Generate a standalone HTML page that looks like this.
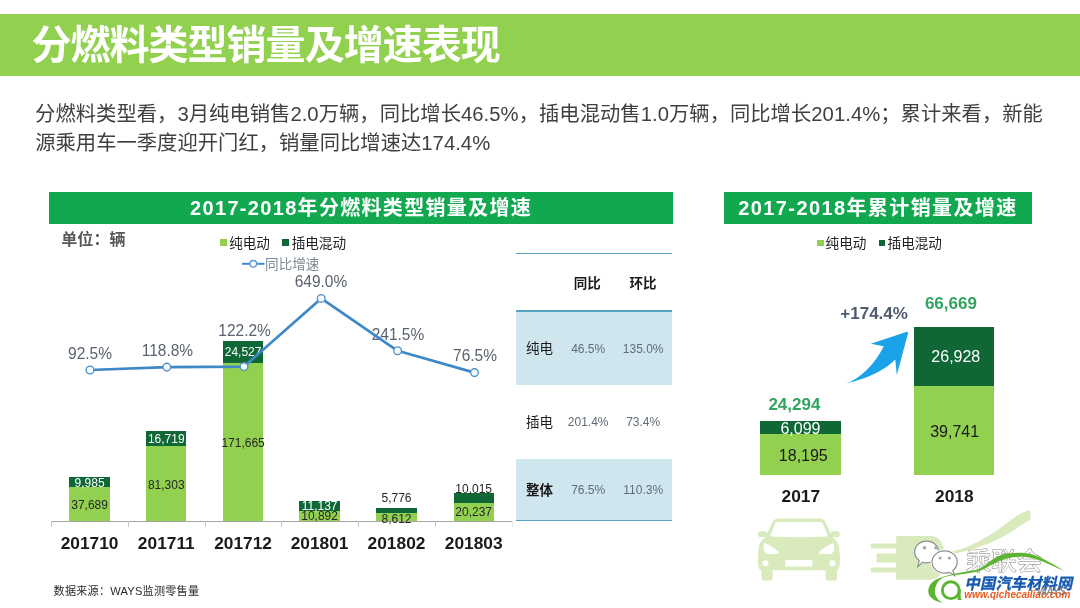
<!DOCTYPE html>
<html lang="zh"><head><meta charset="utf-8"><title>分燃料类型销量及增速表现</title>
<style>
html,body{margin:0;padding:0;background:#fff}
body{width:1080px;height:608px;position:relative;overflow:hidden;font-family:"Liberation Sans",sans-serif}
.r{position:absolute}
.n{position:absolute;width:120px;text-align:center;line-height:1;white-space:nowrap}
.sr{position:absolute;left:0;top:0;width:1px;height:1px;overflow:hidden;clip:rect(0 0 0 0);white-space:nowrap;font-size:1px;color:transparent}
svg.o{position:absolute;left:0;top:0}
svg.o text{font-family:"Liberation Sans","Noto Sans CJK SC",sans-serif}
</style></head><body>
<div style="position:absolute;left:0;top:0;width:1080px;height:608px;will-change:transform">
<div class="r" style="left:0;top:14px;width:1080px;height:61.5px;background:#92D050"></div>
<div class="r" style="left:49px;top:191.9px;width:623.5px;height:32.6px;background:#12A850"></div>
<div class="r" style="left:724px;top:191.9px;width:308px;height:32.6px;background:#12A850"></div>
<div class="r" style="left:220.3px;top:239.2px;width:6.6px;height:6.4px;background:#92D050"></div>
<div class="r" style="left:282.2px;top:239.2px;width:6.8px;height:6.4px;background:#0E6735"></div>
<div class="r" style="left:817px;top:239.5px;width:6.5px;height:6.5px;background:#92D050"></div>
<div class="r" style="left:878.5px;top:239.5px;width:6.5px;height:6.5px;background:#0E6735"></div>
<div class="r" style="left:69.45px;top:477.44px;width:40.3px;height:43.86px;background:#92D050"></div>
<div class="r" style="left:69.45px;top:477.44px;width:40.3px;height:9.19px;background:#0E6735"></div>
<div class="r" style="left:146.15px;top:431.12px;width:40.3px;height:90.18px;background:#92D050"></div>
<div class="r" style="left:146.15px;top:431.12px;width:40.3px;height:15.38px;background:#0E6735"></div>
<div class="r" style="left:222.95px;top:340.8px;width:40.3px;height:180.5px;background:#92D050"></div>
<div class="r" style="left:222.95px;top:340.8px;width:40.3px;height:22.56px;background:#0E6735"></div>
<div class="r" style="left:299.45px;top:501.03px;width:40.3px;height:20.27px;background:#92D050"></div>
<div class="r" style="left:299.45px;top:501.03px;width:40.3px;height:10.25px;background:#0E6735"></div>
<div class="r" style="left:376.35px;top:508.06px;width:40.3px;height:13.24px;background:#92D050"></div>
<div class="r" style="left:376.35px;top:508.06px;width:40.3px;height:5.31px;background:#0E6735"></div>
<div class="r" style="left:453.55px;top:493.47px;width:40.3px;height:27.83px;background:#92D050"></div>
<div class="r" style="left:453.55px;top:493.47px;width:40.3px;height:9.21px;background:#0E6735"></div>
<div class="r" style="left:51px;top:520.6px;width:461px;height:1px;background:#a6a6a6"></div>
<div class="r" style="left:51px;top:521px;width:1px;height:6px;background:#c4c4c4"></div>
<div class="r" style="left:127.75px;top:521px;width:1px;height:6px;background:#c4c4c4"></div>
<div class="r" style="left:204.5px;top:521px;width:1px;height:6px;background:#c4c4c4"></div>
<div class="r" style="left:281.25px;top:521px;width:1px;height:6px;background:#c4c4c4"></div>
<div class="r" style="left:358px;top:521px;width:1px;height:6px;background:#c4c4c4"></div>
<div class="r" style="left:434.75px;top:521px;width:1px;height:6px;background:#c4c4c4"></div>
<div class="r" style="left:511.5px;top:521px;width:1px;height:6px;background:#e6e6e6"></div>
<div class="n" style="left:29.6px;top:498.64px;font-size:12px;color:#262626">37,689</div>
<div class="n" style="left:29.6px;top:476.84px;font-size:12px;color:#fff">9,985</div>
<div class="n" style="left:106.3px;top:478.64px;font-size:12px;color:#262626">81,303</div>
<div class="n" style="left:106.3px;top:433.04px;font-size:12px;color:#fff">16,719</div>
<div class="n" style="left:183.1px;top:437.34px;font-size:12px;color:#262626">171,665</div>
<div class="n" style="left:183.1px;top:346.14px;font-size:12px;color:#fff">24,527</div>
<div class="n" style="left:259.6px;top:500.34px;font-size:12px;color:#fff">11,137</div>
<div class="n" style="left:259.6px;top:510.14px;font-size:12px;color:#262626">10,892</div>
<div class="n" style="left:336.5px;top:491.94px;font-size:12px;color:#262626">5,776</div>
<div class="n" style="left:336.5px;top:512.94px;font-size:12px;color:#262626">8,612</div>
<div class="n" style="left:413.7px;top:483.04px;font-size:12px;color:#262626">10,015</div>
<div class="n" style="left:413.7px;top:505.94px;font-size:12px;color:#262626">20,237</div>
<div class="n" style="left:29.6px;top:534.83px;font-size:17.33px;color:#1a1a1a;font-weight:bold">201710</div>
<div class="n" style="left:106.3px;top:534.83px;font-size:17.33px;color:#1a1a1a;font-weight:bold">201711</div>
<div class="n" style="left:183.1px;top:534.83px;font-size:17.33px;color:#1a1a1a;font-weight:bold">201712</div>
<div class="n" style="left:259.6px;top:534.83px;font-size:17.33px;color:#1a1a1a;font-weight:bold">201801</div>
<div class="n" style="left:336.5px;top:534.83px;font-size:17.33px;color:#1a1a1a;font-weight:bold">201802</div>
<div class="n" style="left:413.7px;top:534.83px;font-size:17.33px;color:#1a1a1a;font-weight:bold">201803</div>
<div class="n" style="left:30px;top:346.18px;font-size:15.5px;color:#5A6270;transform:scaleY(1.08);transform-origin:50% 84.65%">92.5%</div>
<div class="n" style="left:107.4px;top:342.98px;font-size:15.5px;color:#5A6270;transform:scaleY(1.08);transform-origin:50% 84.65%">118.8%</div>
<div class="n" style="left:184.6px;top:323.18px;font-size:15.5px;color:#5A6270;transform:scaleY(1.08);transform-origin:50% 84.65%">122.2%</div>
<div class="n" style="left:261px;top:274.18px;font-size:15.5px;color:#5A6270;transform:scaleY(1.08);transform-origin:50% 84.65%">649.0%</div>
<div class="n" style="left:338px;top:326.68px;font-size:15.5px;color:#5A6270;transform:scaleY(1.08);transform-origin:50% 84.65%">241.5%</div>
<div class="n" style="left:415px;top:347.68px;font-size:15.5px;color:#5A6270;transform:scaleY(1.08);transform-origin:50% 84.65%">76.5%</div>
<div class="r" style="left:516.3px;top:311px;width:156px;height:73.5px;background:#CFE6EF"></div>
<div class="r" style="left:516.3px;top:459px;width:156px;height:61.5px;background:#CFE6EF"></div>
<div class="r" style="left:516.3px;top:252.6px;width:156px;height:1px;background:#55A3BE"></div>
<div class="r" style="left:516.3px;top:309.6px;width:156px;height:2px;background:#55A3BE"></div>
<div class="r" style="left:516.3px;top:520px;width:156px;height:1.2px;background:#55A3BE"></div>
<div class="n" style="left:528.2px;top:342.54px;font-size:12px;color:#5f6b7a">46.5%</div>
<div class="n" style="left:583.2px;top:342.54px;font-size:12px;color:#5f6b7a">135.0%</div>
<div class="n" style="left:528.2px;top:416.14px;font-size:12px;color:#5f6b7a">201.4%</div>
<div class="n" style="left:583.2px;top:416.14px;font-size:12px;color:#5f6b7a">73.4%</div>
<div class="n" style="left:528.2px;top:484.14px;font-size:12px;color:#5f6b7a">76.5%</div>
<div class="n" style="left:583.2px;top:484.14px;font-size:12px;color:#5f6b7a">110.3%</div>
<div class="r" style="left:760px;top:421.2px;width:81px;height:53.8px;background:#92D050"></div>
<div class="r" style="left:760px;top:421.2px;width:81px;height:13.2px;background:#0E6735"></div>
<div class="r" style="left:914px;top:326.8px;width:79.5px;height:148.2px;background:#92D050"></div>
<div class="r" style="left:914px;top:326.8px;width:79.5px;height:59.4px;background:#0E6735"></div>
<div class="n" style="left:740.5px;top:420.98px;font-size:16px;color:#fff">6,099</div>
<div class="n" style="left:743.3px;top:447.78px;font-size:16px;color:#1a1a1a">18,195</div>
<div class="n" style="left:895.8px;top:349.18px;font-size:16px;color:#fff">26,928</div>
<div class="n" style="left:894.7px;top:424.18px;font-size:16px;color:#1a1a1a">39,741</div>
<div class="n" style="left:740.8px;top:487.53px;font-size:17.33px;color:#1a1a1a;font-weight:bold">2017</div>
<div class="n" style="left:894.3px;top:487.53px;font-size:17.33px;color:#1a1a1a;font-weight:bold">2018</div>
</div>
<svg class="o" width="1080" height="608" viewBox="0 0 1080 608">
<text x="31.5" y="58.9" font-size="40" font-weight="bold" fill="#fff" textLength="469.2" lengthAdjust="spacing">分燃料类型销量及增速表现</text>
<text x="35.1" y="121.3" font-size="20.3" fill="#404040" textLength="1007.8" lengthAdjust="spacing">分燃料类型看，3月纯电销售2.0万辆，同比增长46.5%，插电混动售1.0万辆，同比增长201.4%；累计来看，新能</text>
<text x="35.2" y="150.3" font-size="20.3" fill="#404040" textLength="455" lengthAdjust="spacing">源乘用车一季度迎开门红，销量同比增速达174.4%</text>
<text x="190.1" y="215.2" font-size="20" font-weight="bold" fill="#fff" textLength="340.6" lengthAdjust="spacing">2017-2018年分燃料类型销量及增速</text>
<text x="738.3" y="215.2" font-size="20" font-weight="bold" fill="#fff" textLength="277.9" lengthAdjust="spacing">2017-2018年累计销量及增速</text>
<text x="61.2" y="244.6" font-size="16" font-weight="bold" fill="#595959" textLength="64.4" lengthAdjust="spacing">单位：辆</text>
<text x="229.2" y="248" font-size="13.6" fill="#222">纯电动</text>
<text x="291.7" y="248" font-size="13.6" fill="#222">插电混动</text>
<text x="265.1" y="268.7" font-size="13.6" fill="#7f8893">同比增速</text>
<line x1="242" y1="263.8" x2="264.5" y2="263.8" stroke="#3E8CCF" stroke-width="2"/><circle cx="253.3" cy="263.8" r="3.3" fill="#fff" stroke="#5B9BD5" stroke-width="1.4"/>
<text x="825.6" y="248" font-size="13.6" fill="#222">纯电动</text>
<text x="887.6" y="248" font-size="13.6" fill="#222">插电混动</text>
<polyline fill="none" stroke="#3E88C8" stroke-width="2.7" stroke-linejoin="round" points="90,370 166.8,367.1 244,366.6 321.2,298.4 397.6,350.8 474.5,372.6"/>
<circle cx="90" cy="370" r="3.85" fill="#f4fbff" stroke="#4F8FC4" stroke-width="1.35"/>
<circle cx="166.8" cy="367.1" r="3.85" fill="#f4fbff" stroke="#4F8FC4" stroke-width="1.35"/>
<circle cx="244" cy="366.6" r="3.85" fill="#f4fbff" stroke="#4F8FC4" stroke-width="1.35"/>
<circle cx="321.2" cy="298.4" r="3.85" fill="#f4fbff" stroke="#4F8FC4" stroke-width="1.35"/>
<circle cx="397.6" cy="350.8" r="3.85" fill="#f4fbff" stroke="#4F8FC4" stroke-width="1.35"/>
<circle cx="474.5" cy="372.6" r="3.85" fill="#f4fbff" stroke="#4F8FC4" stroke-width="1.35"/>
<text x="573.7" y="287.6" font-size="13.5" font-weight="bold" fill="#1a1a1a">同比</text>
<text x="629.4" y="287.6" font-size="13.5" font-weight="bold" fill="#1a1a1a">环比</text>
<text x="526" y="352.7" font-size="13.5" fill="#1a1a1a">纯电</text>
<text x="526" y="427" font-size="13.5" fill="#1a1a1a">插电</text>
<text x="526.1" y="495" font-size="13.5" font-weight="bold" fill="#1a1a1a">整体</text>
<text x="768.4" y="410" font-size="17" font-weight="bold" fill="#33A460">24,294</text>
<text x="924.9" y="309.4" font-size="17" font-weight="bold" fill="#33A460">66,669</text>
<text x="840.3" y="318.7" font-size="17" font-weight="bold" fill="#4F5B6E">+174.4%</text>
<path fill="#1AA3E8" d="M846,383.6 C861,378 875,364 883.7,346.2 L870.8,343.8 L906.2,331.9 Q908.4,331.3 908,333.6 L896.8,375 L895.3,359.5 C886,369 870,378 846,383.6Z"/>
<text x="53.6" y="595.4" font-size="11.1" fill="#2a2a2a" textLength="145.4" lengthAdjust="spacing">数据来源：WAYS监测零售量</text>
<g fill="#D9EABD"><path d="M779,518.6 L819,518.6 Q823.5,518.6 825.3,522 L832.5,537 Q838,541 839.2,548 Q840.5,556 839.5,566 Q839,570 836.9,570.3 L836.9,578.5 Q836.9,580.5 834.9,580.5 L827.5,580.5 Q825.5,580.5 825.5,578.5 L825.5,570.3 L772.6,570.3 L772.6,578.5 Q772.6,580.5 770.6,580.5 L763.5,580.5 Q761.5,580.5 761.5,578.5 L761.5,570.3 Q759,570 758.3,566 Q757.3,556 758.6,548 Q759.8,541 765.5,537 L772.7,522 Q774.5,518.6 779,518.6Z"/><rect x="758" y="531.3" width="9" height="5.8" rx="2.6"/><rect x="830.7" y="531.3" width="9" height="5.8" rx="2.6"/></g><g fill="#fff"><path d="M777.8,522 H820.2 Q822.3,522 823.1,524 L827.5,535 Q828,536.4 826.4,536.5 C810,537.6 788,537.6 771.6,536.5 Q770,536.4 770.5,535 L774.9,524 Q775.7,522 777.8,522Z"/><path d="M764,543 Q771.5,545.6 778.9,552.2 Q778.6,553.9 776.5,554 L767.5,554 Q764,553.2 763.6,549.2 Q763.4,545.2 764,543Z"/><path transform="translate(1597.7 0) scale(-1 1)" d="M764,543 Q771.5,545.6 778.9,552.2 Q778.6,553.9 776.5,554 L767.5,554 Q764,553.2 763.6,549.2 Q763.4,545.2 764,543Z"/><circle cx="765.5" cy="563.3" r="3.1"/><circle cx="832.3" cy="563.3" r="3.1"/><rect x="785.2" y="560" width="27" height="6.5"/></g><g fill="#D9EABD"><rect x="870.7" y="543.6" width="27" height="5" rx="1"/><rect x="876.5" y="553.5" width="21" height="9"/><rect x="870.7" y="567.4" width="27" height="5" rx="1"/><path d="M896.2,535.9 H931 Q940,536.5 943,546 L946,553 L946,562 L942,572 Q938,579.8 931,579.8 H896.2Z"/><path d="M943,553.2 C957,551.2 968,547 977.6,542.1 C985,538 991,534.5 997.4,530.3 C1004,525.5 1010,520.5 1017,515.8 C1021,513 1026,511 1030.3,509.9 L1030.5,519.8 C1026,522 1021,525 1017,528.3 C1010,533 1004,536.5 997.4,539.5 C991,542.5 985,545 977.6,547.4 C968,550.5 957,553.5 943,556Z"/></g><g fill="#fff" stroke="#8f8f8f" stroke-width="1.2"><path d="M926.6,541.2 C933.4,541.2 938.6,546 938.6,552 C938.6,558 933.4,562.8 926.6,562.8 C925.2,562.8 923.8,562.6 922.6,562.2 L917.8,566.6 L919.2,560.4 C916.4,558.4 914.6,555.4 914.6,552 C914.6,546 919.8,541.2 926.6,541.2Z"/><path stroke="#fff" stroke-width="3" d="M944.6,550.8 C951.6,550.8 957.2,555.8 957.2,562 C957.2,565.4 955.6,568.4 952.8,570.4 L954.8,575.6 L949.4,572.4 C947.8,572.9 946.2,573.2 944.6,573.2 C937.6,573.2 932,568.2 932,562 C932,555.8 937.6,550.8 944.6,550.8Z"/><path d="M944.6,550.8 C951.6,550.8 957.2,555.8 957.2,562 C957.2,565.4 955.6,568.4 952.8,570.4 L954.8,575.6 L949.4,572.4 C947.8,572.9 946.2,573.2 944.6,573.2 C937.6,573.2 932,568.2 932,562 C932,555.8 937.6,550.8 944.6,550.8Z"/></g><g fill="#a8a8a8"><circle cx="924.5" cy="547.7" r="1.8"/><circle cx="936" cy="547.7" r="1.8"/><circle cx="940.1" cy="558" r="1.6"/><circle cx="949.3" cy="558" r="1.6"/></g><text x="965.7" y="570.3" font-size="25.5" fill="#fff" stroke="#7c7c7c" stroke-width="1" stroke-linejoin="round" paint-order="stroke">乘联会</text><path fill="#5CB531" d="M943,603 C934.5,601.5 928.4,597.5 928.3,591.6 C928.2,586.5 931,582.6 935.8,579.7 C943.5,575.2 960,572.6 975.6,569.9 C982,568.5 987.5,563 993.3,558.9 C999,555 1004.5,553.6 1010,553.2 C1014,552.8 1018,552.6 1022,552.8 C1030,553.3 1037.5,555.8 1043.3,558.9 C1050,562.5 1056,565.5 1064.8,571 C1057,567.8 1050,564.5 1043.3,561.7 C1037,559 1030,557.2 1022,556.7 C1018,556.5 1014,557 1010,557.8 C1004.5,559 999,561 993.3,563.9 C987.5,567 982,570.5 975.6,572 C960,575 947,575.5 943.7,577.3 C940,579.3 937.8,581.5 936.5,584.5 C934.3,589 934.2,594 937,598 C938.8,600.5 940.8,602 943,603Z"/><circle cx="950.8" cy="590.2" r="8.45" fill="none" stroke="#5CB531" stroke-width="2.9"/><path fill="#5CB531" d="M957.7,589 H960.7 V598 Q960.8,599.6 962.2,600.1 L957.7,600.1Z"/><g transform="translate(0 588.9) skewX(-12) translate(0 -588.9)"><text x="964.7" y="589.25" font-size="15.4" font-weight="bold" fill="#fff" stroke="#fff" stroke-width="2.6" stroke-linejoin="round" textLength="107.7" lengthAdjust="spacing">中国汽车材料网</text><text x="964.7" y="589.25" font-size="15.4" font-weight="bold" fill="#1558B0" stroke="#1558B0" stroke-width="0.3" stroke-linejoin="round" textLength="107.7" lengthAdjust="spacing">中国汽车材料网</text></g><text x="964.3" y="598.2" font-size="10" font-weight="bold" font-style="italic" fill="#E85A1C" textLength="106" lengthAdjust="spacing">www.qichecailiao.com</text><text x="1037.3" y="595.4" font-size="10" font-weight="bold" font-style="italic" fill="#6f6f6f" opacity="0.8">WAYS</text>
</svg>
<p class="sr">分燃料类型销量及增速表现</p>
<p class="sr">分燃料类型看，3月纯电销售2.0万辆，同比增长46.5%，插电混动售1.0万辆，同比增长201.4%；累计来看，新能源乘用车一季度迎开门红，销量同比增速达174.4%</p>
<p class="sr">2017-2018年分燃料类型销量及增速</p>
<p class="sr">单位：辆</p>
<p class="sr">纯电动 插电混动 同比增速</p>
<p class="sr">同比 环比 纯电 插电 整体</p>
<p class="sr">2017-2018年累计销量及增速</p>
<p class="sr">纯电动 插电混动</p>
<p class="sr">+174.4% 66,669 24,294</p>
<p class="sr">数据来源：WAYS监测零售量</p>
<p class="sr">乘联会 中国汽车材料网 www.qichecailiao.com WAYS</p>
</body></html>
